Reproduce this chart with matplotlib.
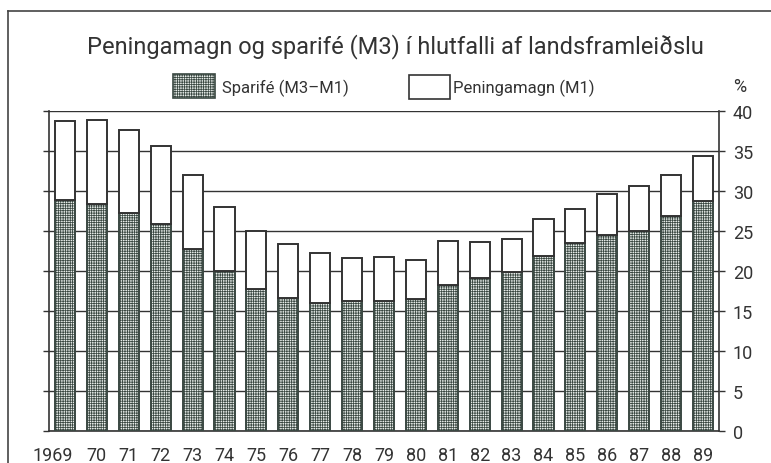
import matplotlib
matplotlib.use("Agg")
import matplotlib.pyplot as plt
from matplotlib.patches import Rectangle
from matplotlib.lines import Line2D
from matplotlib.transforms import ScaledTranslation
import numpy as np

# Data: share of GDP (%)
year_labels = ["1969", "70", "71", "72", "73", "74", "75", "76", "77", "78", "79",
               "80", "81", "82", "83", "84", "85", "86", "87", "88", "89"]
savings_m3_m1 = [28.9, 28.4, 27.3, 25.9, 22.7, 20.0, 17.8, 16.6, 16.0, 16.2, 16.3,
                 16.5, 18.2, 19.1, 19.9, 21.9, 23.5, 24.5, 25.0, 26.9, 28.8]
money_m1 = [9.9, 10.5, 10.3, 9.7, 9.3, 8.0, 7.2, 6.8, 6.2, 5.4, 5.4,
            4.9, 5.5, 4.5, 4.1, 4.6, 4.3, 5.1, 5.6, 5.1, 5.6]
y_ticks = [0, 5, 10, 15, 20, 25, 30, 35, 40]

title = "Peningamagn og sparifé (M3) í hlutfalli af landsframleiðslu"
label_savings = "Sparifé (M3–M1)"
label_money = "Peningamagn (M1)"

plt.rcParams["font.family"] = ["Roboto", "DejaVu Sans"]
plt.rcParams["hatch.linewidth"] = 0.55

INK = "#333333"
HATCH_INK = "#3a4842"
HATCH_FACE = "#e8edea"

W, H = 771, 464
fig = plt.figure(figsize=(W / 100, H / 100), dpi=100)


def fx(px):
    return px / W


def fy(py):
    return 1 - py / H


# plot area
left, right, top, bottom = 49, 719, 112.3, 431.7
ax = fig.add_axes([fx(left), fy(bottom), fx(right - left), (bottom - top) / H])

x = np.arange(len(year_labels))
ax.bar(x, savings_m3_m1, width=0.63, facecolor=HATCH_FACE, edgecolor=HATCH_INK,
       hatch="+++++++", linewidth=1.4, zorder=3)
ax.bar(x, money_m1, bottom=savings_m3_m1, width=0.63, facecolor="white",
       edgecolor=INK, linewidth=1.4, zorder=3)

ax.set_xlim(-0.5, len(year_labels) - 0.5)
ax.set_ylim(0, 40)
ax.set_yticks(y_ticks)
ax.set_yticklabels([str(v) for v in y_ticks])
ax.yaxis.grid(True, color=INK, linewidth=1.0)
ax.set_axisbelow(True)
ax.tick_params(axis="y", which="both", left=True, right=True, labelleft=False,
               labelright=True, direction="out", length=4, width=1.0,
               color=INK, labelcolor=INK, labelsize=13, pad=6)
ax.set_xticks(x)
ax.set_xticklabels(year_labels)
ax.tick_params(axis="x", length=0, labelsize=13, labelcolor=INK, pad=11)
# the four-digit first year is nudged left so it clears the next label
first = ax.get_xticklabels()[0]
first.set_transform(first.get_transform() + ScaledTranslation(-0.12, 0, fig.dpi_scale_trans))
for s in ["left", "right", "bottom"]:
    ax.spines[s].set_color(INK)
    ax.spines[s].set_linewidth(1.2)
ax.spines["top"].set_visible(False)

# outer frame (left and top edges)
fig.add_artist(Line2D([fx(8.3), fx(8.3)], [0, fy(11.7)], color="#444444", lw=1.2,
                      transform=fig.transFigure))
fig.add_artist(Line2D([fx(8.3), 1], [fy(11.7), fy(11.7)], color="#444444", lw=1.2,
                      transform=fig.transFigure))

# title
fig.text(fx(395), fy(46.7), title, ha="center", va="center", fontsize=17,
         color=INK)

# legend
fig.add_artist(Rectangle((fx(173), fy(99)), fx(42), 24 / H, facecolor=HATCH_FACE,
                         edgecolor=HATCH_INK, hatch="+++++++", linewidth=1.2,
                         transform=fig.transFigure))
fig.text(fx(222), fy(88), label_savings, ha="left", va="center", fontsize=12,
         color=INK)
fig.add_artist(Rectangle((fx(409), fy(100)), fx(41), 24 / H, facecolor="white",
                         edgecolor=INK, linewidth=1.2, transform=fig.transFigure))
fig.text(fx(453), fy(88), label_money, ha="left", va="center", fontsize=12,
         color=INK)
fig.text(fx(740), fy(87), "%", ha="center", va="center", fontsize=13, color=INK)

fig.savefig("out.png", dpi=100, facecolor="white")
